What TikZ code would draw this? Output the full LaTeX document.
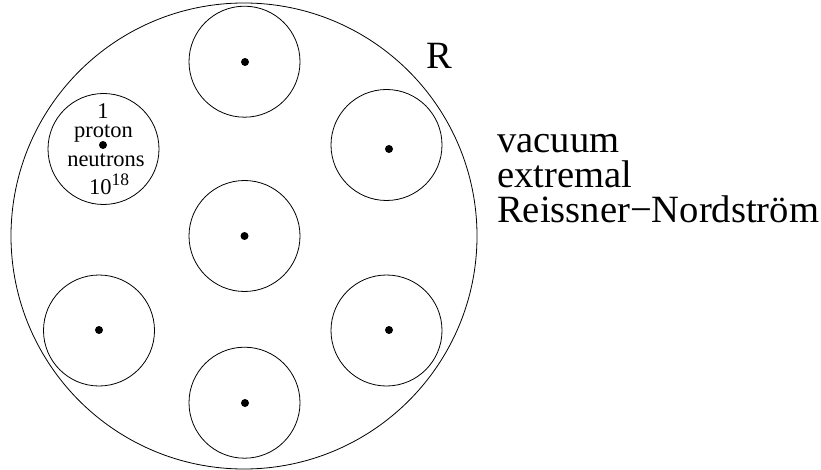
\documentclass[tikz,border=0pt]{standalone}
\usepackage{fontspec}
\setmainfont{Liberation Serif}
\begin{document}
\begin{tikzpicture}[x=1pt,y=-1pt,
  ball/.style={draw,circle,line width=0.8pt,minimum size=111pt,inner sep=0pt},
  outer/.style={draw,circle,line width=0.8pt,minimum size=466pt,inner sep=0pt},
  pt/.style={fill,circle,minimum size=8pt,inner sep=0pt},
  big/.style={font=\fontsize{38.6}{38.6}\selectfont,inner sep=0pt},
  small/.style={font=\fontsize{22.5}{22.5}\selectfont,inner sep=0pt}]
\useasboundingbox (0,0) rectangle (821,470);
\node[outer] (world) at (244,236) {};
\node[ball] (b1) at (244.5,61.7) {};
\node[ball] (b2) at (386.5,145) {};
\node[ball] (b3) at (244.5,236) {};
\node[ball] (b4) at (99,330.5) {};
\node[ball] (b5) at (386.5,330.5) {};
\node[ball] (b6) at (244.5,402.7) {};
\node[ball] (b0) at (103.5,149) {};
\node[pt] (d1) at (245,62) {};
\node[pt] (d2) at (389,149) {};
\node[pt] (d3) at (244.5,236) {};
\node[pt] (d4) at (99,330) {};
\node[pt] (d5) at (389,330) {};
\node[pt] (d6) at (245,403) {};
\node[pt] (d0) at (103,145) {};
\node[small,anchor=base] (one) at (103,119) {1};
\node[small,anchor=base] (proton) at (103.5,138) {proton};
\node[small,anchor=base] (neutrons) at (106,167) {neutrons};
\node[small,anchor=base] (pow) at (109,195) {10\raisebox{9pt}{\fontsize{17.5}{17.5}\selectfont 18}};
\node[big,anchor=base] (R) at (439,69) {R};
\node[big,anchor=base west] (vac) at (497,153) {vacuum};
\node[big,anchor=base west] (ext) at (497,188) {extremal};
\node[big,anchor=base west] (rn) at (497,223) {Reissner−Nordström};
\end{tikzpicture}
\end{document}
